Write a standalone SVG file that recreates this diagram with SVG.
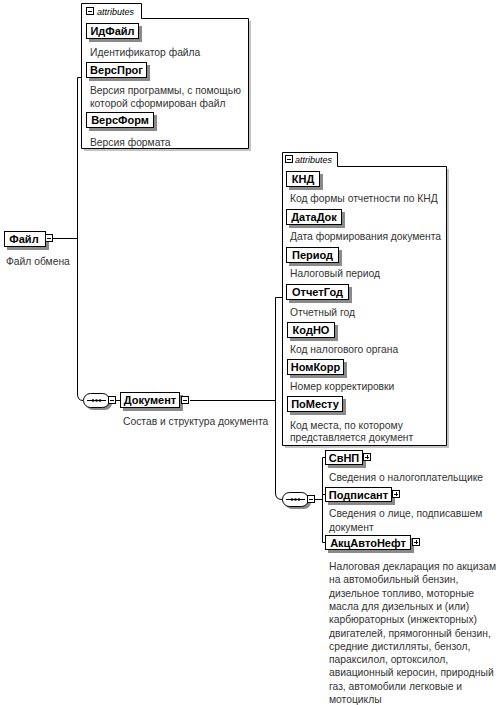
<svg xmlns="http://www.w3.org/2000/svg" width="501" height="705" viewBox="0 0 501 705">
<style>
.bg{fill:#fff}
.box{fill:#fff;stroke:#000;stroke-width:1}
.sh{fill:#8a8a8a}
.ln{stroke:#000;stroke-width:1;fill:none}
.name{font-family:"Liberation Sans",Arial,sans-serif;font-size:11px;font-weight:bold;fill:#000;text-anchor:middle}
.desc{font-family:"Liberation Sans",Arial,sans-serif;font-size:10.3px;fill:#333}
.tab{font-family:"Liberation Sans",Arial,sans-serif;font-size:9px;font-style:italic;fill:#000}
.ic{fill:#fff;stroke:#000;stroke-width:1}
</style>
<defs>
<g id="minus"><rect class="ic" x="0.5" y="0.5" width="7" height="7"/><path class="ln" d="M2,4.5H6"/></g>
<g id="plus"><rect class="ic" x="0.5" y="0.5" width="7" height="7"/><path class="ln" d="M2,4.5H6M4.5,2V6"/></g>
<g id="seq">
<rect x="3" y="3" width="26" height="14" rx="7" class="sh"/>
<rect x="0.5" y="0.5" width="26" height="14" rx="7" class="box"/>
<path class="ln" d="M4,7.5H23"/>
<circle cx="10" cy="7.5" r="1.3"/><circle cx="13.5" cy="7.5" r="1.3"/><circle cx="17" cy="7.5" r="1.3"/>
</g>
</defs>
<rect class="bg" x="0" y="0" width="501" height="705"/>

<g id="connectors">
<path class="ln" d="M53,238.5H77"/>
<path class="ln" d="M81,77.5H77.5V394Q77.5,400.5 83,400.5"/>
<path class="ln" d="M116,400.5H120"/>
<path class="ln" d="M190,400.5H275.5"/>
<path class="ln" d="M282,297.5H275.5V493Q275.5,499.5 282,499.5"/>
<path class="ln" d="M315,499.5H322.5"/>
<path class="ln" d="M325,457.5H322.5V542.5H325M322.5,494.5H325"/>
</g>

<g id="attrs1">
<path d="M84,21H251V151H84Z" class="sh" opacity="0.5"/>
<path class="box" d="M81.5,148.5V3.5H141.5V18.5H248.5V148.5Z"/>
<use href="#minus" x="86" y="7"/>
<text class="tab" x="97" y="14.5">attributes</text>
</g>
<g id="ИдФайл">
<rect class="sh" x="89" y="26" width="53" height="16"/>
<rect class="box" x="86.5" y="23.5" width="52" height="15"/>
<text class="name" x="112.5" y="35">ИдФайл</text>
<text class="desc" x="90" y="56">Идентификатор файла</text>
</g>
<g id="ВерсПрог">
<rect class="sh" x="89" y="65" width="61" height="16"/>
<rect class="box" x="86.5" y="62.5" width="60" height="15"/>
<text class="name" x="116.5" y="74">ВерсПрог</text>
<text class="desc" x="90" y="94">Версия программы, с помощью</text>
<text class="desc" x="90" y="107">которой сформирован файл</text>
</g>
<g id="ВерсФорм">
<rect class="sh" x="89" y="115" width="68" height="16"/>
<rect class="box" x="86.5" y="112.5" width="67" height="15"/>
<text class="name" x="120" y="124">ВерсФорм</text>
<text class="desc" x="90" y="146">Версия формата</text>
</g>

<g id="Файл">
<rect class="sh" x="7" y="234" width="42" height="16"/>
<rect class="box" x="4.5" y="231.5" width="41" height="15"/>
<text class="name" x="24" y="243">Файл</text>
<use href="#minus" x="45" y="234"/>
<text class="desc" x="6" y="265">Файл обмена</text>
</g>

<g id="seq1">
<use href="#seq" x="83" y="393"/>
<use href="#minus" x="108" y="396"/>
</g>

<g id="Документ">
<rect class="sh" x="123" y="395" width="60" height="16"/>
<rect class="box" x="120.5" y="392.5" width="59" height="15"/>
<text class="name" x="150" y="404">Документ</text>
<use href="#minus" x="181" y="396"/>
<text class="desc" x="123" y="425">Состав и структура документа</text>
</g>

<g id="attrs2">
<path d="M285,169H449V448H285Z" class="sh" opacity="0.5"/>
<path class="box" d="M282.5,445.5V152.5H337.5V166.5H446.5V445.5Z"/>
<use href="#minus" x="285" y="155"/>
<text class="tab" x="295" y="162.5">attributes</text>
</g>
<g id="КНД">
<rect class="sh" x="289" y="174" width="34" height="16"/>
<rect class="box" x="286.5" y="171.5" width="33" height="15"/>
<text class="name" x="303" y="183">КНД</text>
<text class="desc" x="290" y="202">Код формы отчетности по КНД</text>
</g>
<g id="ДатаДок">
<rect class="sh" x="289" y="212" width="56" height="16"/>
<rect class="box" x="286.5" y="209.5" width="55" height="15"/>
<text class="name" x="314" y="221">ДатаДок</text>
<text class="desc" x="290" y="240">Дата формирования документа</text>
</g>
<g id="Период">
<rect class="sh" x="289" y="250" width="53" height="16"/>
<rect class="box" x="286.5" y="247.5" width="52" height="15"/>
<text class="name" x="312.5" y="259">Период</text>
<text class="desc" x="290" y="277">Налоговый период</text>
</g>
<g id="ОтчетГод">
<rect class="sh" x="289" y="287" width="63" height="16"/>
<rect class="box" x="286.5" y="284.5" width="62" height="15"/>
<text class="name" x="317.5" y="296">ОтчетГод</text>
<text class="desc" x="290" y="316">Отчетный год</text>
</g>
<g id="КодНО">
<rect class="sh" x="290" y="325" width="48" height="16"/>
<rect class="box" x="287.5" y="322.5" width="47" height="15"/>
<text class="name" x="311" y="334">КодНО</text>
<text class="desc" x="290" y="353">Код налогового органа</text>
</g>
<g id="НомКорр">
<rect class="sh" x="290" y="362" width="57" height="16"/>
<rect class="box" x="287.5" y="359.5" width="56" height="15"/>
<text class="name" x="315.5" y="371">НомКорр</text>
<text class="desc" x="290" y="390">Номер корректировки</text>
</g>
<g id="ПоМесту">
<rect class="sh" x="290" y="399" width="56" height="16"/>
<rect class="box" x="287.5" y="396.5" width="55" height="15"/>
<text class="name" x="315" y="408">ПоМесту</text>
<text class="desc" x="290" y="429">Код места, по которому</text>
<text class="desc" x="290" y="441">представляется документ</text>
</g>

<g id="seq2">
<use href="#seq" x="282" y="492"/>
<use href="#minus" x="307" y="495"/>
</g>

<g id="СвНП">
<rect class="sh" x="328" y="453" width="38" height="15"/>
<rect class="box" x="325.5" y="450.5" width="37" height="14"/>
<text class="name" x="344" y="461.5">СвНП</text>
<use href="#plus" x="363" y="453"/>
<text class="desc" x="329" y="481">Сведения о налогоплательщике</text>
</g>
<g id="Подписант">
<rect class="sh" x="328" y="490" width="67" height="15"/>
<rect class="box" x="325.5" y="487.5" width="66" height="14"/>
<text class="name" x="358.5" y="498.5">Подписант</text>
<use href="#plus" x="392" y="490"/>
<text class="desc" x="329" y="517">Сведения о лице, подписавшем</text>
<text class="desc" x="329" y="531">документ</text>
</g>
<g id="АкцАвтоНефт">
<rect class="sh" x="328" y="538" width="86" height="15"/>
<rect class="box" x="325.5" y="535.5" width="85" height="14" stroke-width="1.5"/>
<text class="name" x="368" y="546.5">АкцАвтоНефт</text>
<use href="#plus" x="412" y="538"/>
<text class="desc" x="329" y="570">Налоговая декларация по акцизам</text>
<text class="desc" x="329" y="583.3">на автомобильный бензин,</text>
<text class="desc" x="329" y="596.6">дизельное топливо, моторные</text>
<text class="desc" x="329" y="609.9">масла для дизельных и (или)</text>
<text class="desc" x="329" y="623.2">карбюраторных (инжекторных)</text>
<text class="desc" x="329" y="636.5">двигателей, прямогонный бензин,</text>
<text class="desc" x="329" y="649.8">средние дистилляты, бензол,</text>
<text class="desc" x="329" y="663.1">параксилол, ортоксилол,</text>
<text class="desc" x="329" y="676.4">авиационный керосин, природный</text>
<text class="desc" x="329" y="689.7">газ, автомобили легковые и</text>
<text class="desc" x="329" y="703">мотоциклы</text>
</g>
</svg>
